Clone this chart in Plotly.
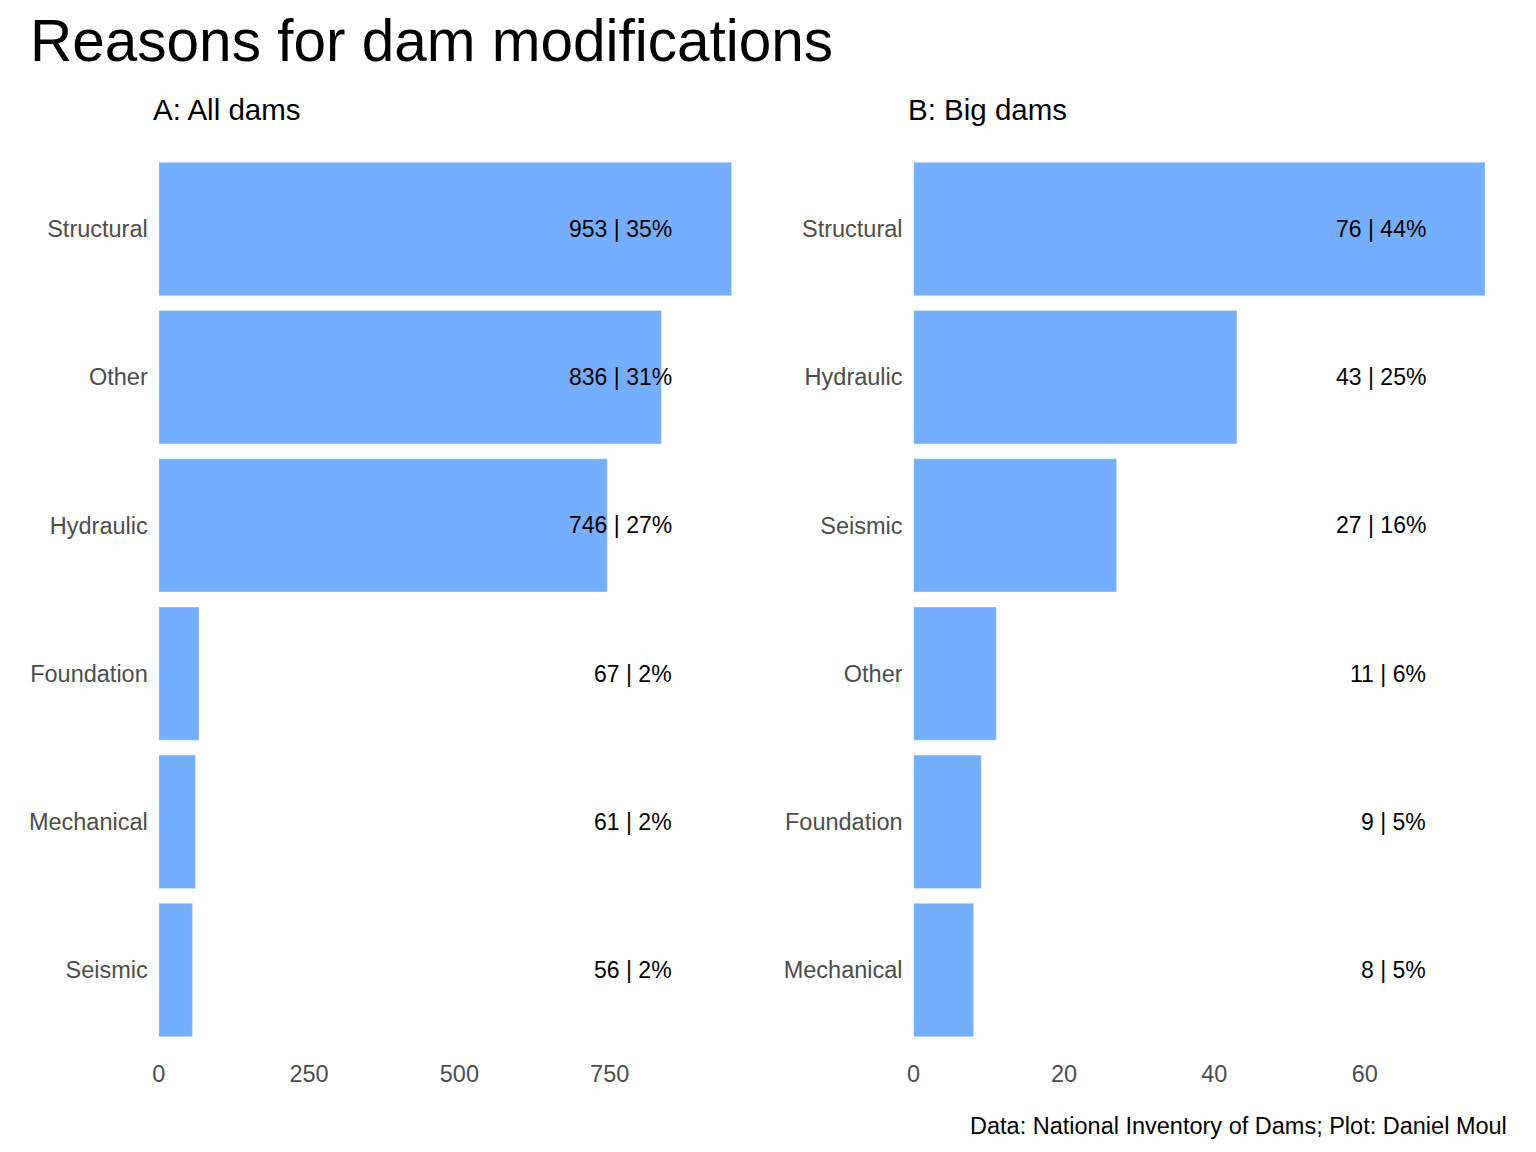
import plotly.graph_objects as go

# Data
cats_a = ["Structural", "Other", "Hydraulic", "Foundation", "Mechanical", "Seismic"]
vals_a = [953, 836, 746, 67, 61, 56]
pct_a = [35, 31, 27, 2, 2, 2]

cats_b = ["Structural", "Hydraulic", "Seismic", "Other", "Foundation", "Mechanical"]
vals_b = [76, 43, 27, 11, 9, 8]
pct_b = [44, 25, 16, 6, 5, 5]

ticks_a = [0, 250, 500, 750]
ticks_b = [0, 20, 40, 60]

BAR = "#75AEFF"
FONT = "Liberation Sans, Arial, sans-serif"
W, H = 1536, 1152


def px(x):
    # target horizontal pixel -> paper fraction (compensates page offset)
    return ((x - 15.5) / 0.9937) / W


def py(y):
    # target vertical pixel (from top) -> paper fraction
    return 1 - (y - 8) / H


fig = go.Figure()
fig.add_trace(go.Bar(x=vals_a, y=cats_a, orientation="h", marker_color=BAR,
                     width=0.9, xaxis="x", yaxis="y", showlegend=False, hoverinfo="skip"))
fig.add_trace(go.Bar(x=vals_b, y=cats_b, orientation="h", marker_color=BAR,
                     width=0.9, xaxis="x2", yaxis="y2", showlegend=False, hoverinfo="skip"))

ann = []
for c, v, p in zip(cats_a, vals_a, pct_a):
    ann.append(dict(x=0.9 * max(vals_a), y=c, xref="x", yref="y", text=f"{v} | {p}%",
                    xanchor="right", yanchor="middle", showarrow=False,
                    font=dict(size=23, color="black", family=FONT)))
for c, v, p in zip(cats_b, vals_b, pct_b):
    ann.append(dict(x=0.9 * max(vals_b), y=c, xref="x2", yref="y2", text=f"{v} | {p}%",
                    xanchor="right", yanchor="middle", showarrow=False,
                    font=dict(size=23, color="black", family=FONT)))

ann.append(dict(x=px(28), y=py(40), xref="paper", yref="paper", text="Reasons for dam modifications",
                xanchor="left", yanchor="middle", showarrow=False,
                font=dict(size=58.5, color="black", family=FONT)))
ann.append(dict(x=px(151), y=py(110), xref="paper", yref="paper", text="A: All dams",
                xanchor="left", yanchor="middle", showarrow=False,
                font=dict(size=29.5, color="black", family=FONT)))
ann.append(dict(x=px(905), y=py(110), xref="paper", yref="paper", text="B: Big dams",
                xanchor="left", yanchor="middle", showarrow=False,
                font=dict(size=29.5, color="black", family=FONT)))
ann.append(dict(x=px(1507), y=py(1126), xref="paper", yref="paper",
                text="Data: National Inventory of Dams; Plot: Daniel Moul",
                xanchor="right", yanchor="middle", showarrow=False,
                font=dict(size=23.5, color="black", family=FONT)))

ydom = [py(1044.1), py(154.9)]
axis_font = dict(size=23.5, color="#4D4D4D", family=FONT)

fig.update_layout(
    width=W, height=H,
    margin=dict(l=0, r=0, t=0, b=0),
    paper_bgcolor="white", plot_bgcolor="white",
    font=dict(family=FONT),
    annotations=ann,
    bargap=0.1,
    xaxis=dict(domain=[px(159), px(731)], range=[0, max(vals_a)], tickvals=ticks_a,
               showgrid=False, zeroline=False, showline=False, ticks="", tickfont=axis_font,
               ticklabelstandoff=13, anchor="y"),
    yaxis=dict(domain=ydom, range=[-0.5, 5.5], categoryorder="array",
               categoryarray=cats_a[::-1], showgrid=False, zeroline=False, ticks="",
               ticklabelstandoff=10, tickfont=axis_font, anchor="x"),
    xaxis2=dict(domain=[px(912.5), px(1483)], range=[0, max(vals_b)], tickvals=ticks_b,
                showgrid=False, zeroline=False, showline=False, ticks="", tickfont=axis_font,
                ticklabelstandoff=13, anchor="y2"),
    yaxis2=dict(domain=ydom, range=[-0.5, 5.5], categoryorder="array",
                categoryarray=cats_b[::-1], showgrid=False, zeroline=False, ticks="",
                ticklabelstandoff=10, tickfont=axis_font, anchor="x2"),
)

fig.write_html("out.html")
